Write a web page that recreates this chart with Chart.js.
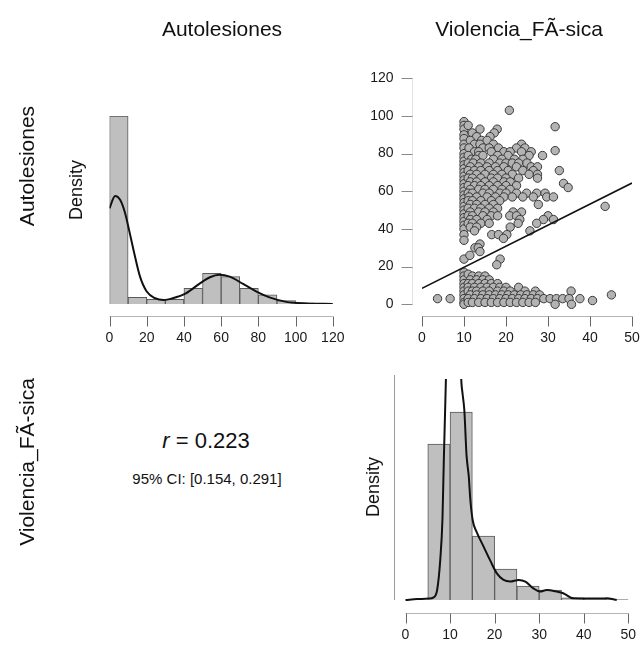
<!DOCTYPE html>
<html>
<head>
<meta charset="utf-8">
<script src="https://cdn.jsdelivr.net/npm/chart.js@4.4.0/dist/chart.umd.min.js"></script>
<style>
  html, body { margin: 0; padding: 0; background: #ffffff; }
  body { width: 640px; height: 646px; position: relative; overflow: hidden;
         font-family: "Liberation Sans", Arial, sans-serif; color: #111; }
  canvas { position: absolute; }
  .t { position: absolute; white-space: nowrap; line-height: 1; transform: translate(-50%, -50%); }
  .v { transform: translate(-50%, -50%) rotate(-90deg); }
</style>
</head>
<body>
<canvas id="histAuto" width="345" height="360" style="left:0px;top:0px"></canvas>
<canvas id="scatter" width="300" height="360" style="left:340px;top:0px"></canvas>
<canvas id="histViol" width="300" height="286" style="left:340px;top:360px"></canvas>

<div class="t" style="left:222px;top:28px;font-size:21px">Autolesiones</div>
<div class="t" style="left:519px;top:28px;font-size:21px">Violencia_FÃ-sica</div>
<div class="t v" style="left:26px;top:166px;font-size:21px">Autolesiones</div>
<div class="t v" style="left:26px;top:462px;font-size:21px">Violencia_FÃ-sica</div>
<div class="t v" style="left:76px;top:190px;font-size:18px">Density</div>
<div class="t v" style="left:373px;top:487px;font-size:18px">Density</div>
<div class="t" style="left:206px;top:441px;font-size:22px"><i>r</i> = 0.223</div>
<div class="t" style="left:207px;top:478px;font-size:15px">95% CI: [0.154, 0.291]</div>

<script>
// ---------- data ----------
const autoTicks = [0, 20, 40, 60, 80, 100, 120];
const violTicks = [0, 10, 20, 30, 40, 50];
const scatterYTicks = [0, 20, 40, 60, 80, 100, 120];

// Autolesiones histogram (bin width 10)
const autoBinStarts = [0, 10, 20, 30, 40, 50, 60, 70, 80, 90, 100, 110];
const autoBinDensity = [0.0619, 0.0022, 0.0015, 0.0015, 0.0052, 0.0101, 0.0090, 0.0052, 0.0030, 0.0011, 0.0004, 0.0001];
const autoBinWidth = 10;
// Autolesiones density curve
const autoDensX = [0, 3, 5.7, 8.4, 10.5, 12.9, 16.4, 20, 24.5, 29, 34, 41, 48.6, 54, 59, 64.6, 71.8, 79, 86, 95, 106, 120];
const autoDensY = [0.0315, 0.0356, 0.0343, 0.0299, 0.0244, 0.0178, 0.0090, 0.0041, 0.0019, 0.0013, 0.0019, 0.0035, 0.0068, 0.0088, 0.0096, 0.0090, 0.0066, 0.0041, 0.0022, 0.0007, 0.0002, 0.0000];
const autoYMax = 0.0619;

// Violencia histogram (bin width 5)
const violBinStarts = [5, 10, 15, 20, 25, 30, 35, 40, 45];
const violBinDensity = [0.0669, 0.0806, 0.0274, 0.0133, 0.0060, 0.0043, 0.0009, 0.0004, 0.0002];
const violBinWidth = 5;
// Violencia density curve (peaks run past the top of the panel)
const violDensX = [0, 2.6, 5.2, 6.3, 7.1, 7.8, 8.3, 8.6, 8.9, 9.1, 9.5, 10.5, 11.5, 12.1, 12.5, 12.8, 13.2, 13.7, 14.2, 14.55, 15.1, 16, 17.5, 19, 20.5, 22, 23.5, 25.4, 26.9, 28.7, 30.2, 31.7, 34, 35.4, 37.7, 41.4, 44.4, 45.1, 47.4];
const violDensY = [0, 0.0004, 0.0006, 0.0011, 0.0043, 0.0172, 0.035, 0.060, 0.082, 0.097, 0.13, 0.16, 0.16, 0.125, 0.095, 0.0886, 0.0815, 0.062, 0.053, 0.043, 0.034, 0.029, 0.023, 0.017, 0.0114, 0.0086, 0.0079, 0.0086, 0.0079, 0.005, 0.0036, 0.0043, 0.0036, 0.0029, 0.0007, 0.0006, 0.0006, 0.0007, 0];
const violYMax = 0.0965;

// Scatter: [Violencia_FÃ-sica, Autolesiones]
const scatterPoints = [
  [10,97],[10,95],[10,93],[10,90],[10,88],[10,85],[10,83],[10,80],[10,78],[10,76],[10,74],[10,72],[10,70],[10,68],
  [10,66],[10,64],[10,62],[10,60],[10,58],[10,56],[10,54],[10,52],[10,50],[10,48],[10,46],[10,44],[10,42],[10,40],
  [10,37],[10,34],[10,24],[10,17],[10,15],[10,13],[10,11],[10,9],[10,7],[10,5],[10,3],[10,1],[10,0],
  [20.8,103],[31.7,94.3],[31.7,81.6],[33.7,64.2],[34.8,62],
  [11,95],
  [13.8,93],[17.9,93],
  [12,91],[17.2,91],
  [13,89],[16.2,89],
  [11.5,87],[14.2,87],[15.5,87],
  [12.5,85],[13.8,85],[17,85],[23.7,85],
  [11.2,83],[14.5,83],[16,83],[18.2,83],[22.5,83],[24.5,83],
  [12.5,81],[13.5,81],[16.5,81],[19.5,81],[21,81],[23.7,81],[26,81],
  [11,79],[13.5,79],[14.5,79],[18,79],[20.5,79],[25.5,79],[28.7,79],
  [11.8,77],[12.8,77],[17,77],[19,77],[22,77],[24,77],
  [11,75],[12.2,75],[14,75],[16,75],[18.5,75],[20,75],[21.5,75],[23,75],[25,75],
  [11.5,73],[13.5,73],[15.5,73],[17.5,73],[19.5,73],[22.5,73],[26,73],[27.5,73],
  [11,71],[12.5,71],[14,71],[16,71],[18,71],[20.5,71],[24,71],[26.5,71],[32.7,71],
  [11.5,69],[13,69],[15,69],[17,69],[19,69],[21.5,69],[25.5,69],[27.5,69],
  [11,67],[12,67],[14,67],[16.5,67],[18,67],[20,67],[23,67],[27.5,67],
  [11.5,65],[13,65],[15,65],[17,65],[19.5,65],[21,65],
  [11,63],[12.5,63],[14,63],[16,63],[18,63],[20,63],[22.5,63],
  [11.5,61],[13.5,61],[15,61],[17,61],[19,61],[21,61],
  [11,59],[12,59],[14.5,59],[16,59],[18.5,59],[20,59],[22.5,59],[24.9,59],[27.3,59],[29.3,59],
  [11.2,57],[13,57],[15.5,57],[17.5,57],[19.5,57],[21.5,57],[24,57],[26.5,57],[29.7,57],[31.3,57],
  [11,55],[12,55],[14,55],[16.5,55],[18.5,55],
  [11.5,53],[13,53],[15,53],[17,53],[27.7,53],[43.6,52],
  [11,51],[12.5,51],[14,51],[16,51],[18,51],
  [11.5,49],[13.5,49],[15,49],[17,49],[21.7,49],[23.7,49],
  [11,47],[12,47],[14.5,47],[16.5,47],[18,47],[20.9,47],[22.5,47],[30,47],
  [11.5,45],[13,45],[15.5,45],[23.3,45],[28.9,45],[31.3,45],
  [11,43],[12,43],[14,43],[16,43],[22.9,43],[27.3,43],
  [11.5,41],[13,41],[21,41],
  [12.5,39],[25.7,39],
  [16.6,37],[18.2,37],[20.2,37],
  [19.4,35],[13.8,32],[12.6,30],[13.4,30],[13.8,28],[11.4,26],[18.6,24],[17.8,21],
  [11,16],
  [12,15],[13.5,15],[15,15],
  [11.5,13],[13,13],[14.5,13],[16,13],
  [11,11],[12,11],[13.5,11],[15,11],[16.5,11],[18,11],
  [11,9],[12.5,9],[14,9],[15.5,9],[17,9],[18.5,9],[20,9],[23,9],
  [11,7],[12,7],[13,7],[14.5,7],[16,7],[18,7],[19.5,7],[21,7],[24.5,7],[27,7],[35.5,7],
  [11.5,5],[13,5],[14.5,5],[16,5],[17.5,5],[19,5],[20.5,5],[22,5],[23.5,5],[25,5],[26.5,5],[28,5],[45.1,5],
  [3.7,3],[6.7,3],[11,3],[12.5,3],[14,3],[15.5,3],[17,3],[18.5,3],[20,3],[21.5,3],[23,3],[24.5,3],[26,3],
  [27.5,3],[29,3],[30.5,3],[32,3],[33.5,3],[35,3],[37.6,3],[40.6,2],
  [11,1],[12,1],[13.5,1],[15,1],[16.5,1],[18,1],[19.5,1],[21,1],[22.5,1],[24,1],[25.5,1],[27,1],
  [31.7,0],[35.6,0]
];
// Regression line
const regLineX = [0, 50];
const regLineY = [8.5, 64.4];

// ---------- styles ----------
const FONT = '"Liberation Sans", Arial, sans-serif';
const barFill = '#bfbfbf';
const barEdge = '#5a5a5a';

// Detached R-style axes drawn through the chart's own scales
const rAxes = {
  id: 'rAxes',
  afterDraw(chart, args, opts) {
    const ctx = chart.ctx;
    const xs = chart.scales.x, ys = chart.scales.y;
    ctx.save();
    ctx.font = '14px ' + FONT;
    ctx.fillStyle = '#1a1a1a';
    if (opts.x) {
      const o = opts.x;
      const yLine = Math.round(ys.getPixelForValue(ys.min) + o.gap) + 0.5;
      const x0 = xs.getPixelForValue(o.ticks[0]);
      const x1 = xs.getPixelForValue(o.ticks[o.ticks.length - 1]);
      ctx.strokeStyle = '#b5b5b5'; ctx.lineWidth = 1;
      ctx.beginPath(); ctx.moveTo(x0, yLine); ctx.lineTo(x1, yLine); ctx.stroke();
      ctx.strokeStyle = '#666'; 
      ctx.textAlign = 'center'; ctx.textBaseline = 'middle';
      o.ticks.forEach(v => {
        const px = Math.round(xs.getPixelForValue(v)) + 0.5;
        ctx.beginPath(); ctx.moveTo(px, yLine); ctx.lineTo(px, yLine + 10); ctx.stroke();
        ctx.fillText(String(v), xs.getPixelForValue(v), yLine + 22);
      });
    }
    if (opts.y) {
      const o = opts.y;
      const xLine = Math.round(xs.getPixelForValue(xs.min) - o.gap) + 0.5;
      const yTop = o.ticks ? ys.getPixelForValue(o.ticks[o.ticks.length - 1]) : ys.getPixelForValue(ys.max);
      const yBot = o.ticks ? ys.getPixelForValue(o.ticks[0]) : ys.getPixelForValue(ys.min);
      ctx.strokeStyle = o.lineColor; ctx.lineWidth = 1;
      ctx.beginPath(); ctx.moveTo(xLine, yTop); ctx.lineTo(xLine, yBot); ctx.stroke();
      if (o.ticks) {
        ctx.strokeStyle = '#8a8a8a';
        ctx.textAlign = 'right'; ctx.textBaseline = 'middle';
        o.ticks.forEach(v => {
          const py = Math.round(ys.getPixelForValue(v)) + 0.5;
          ctx.beginPath(); ctx.moveTo(xLine - 11, py); ctx.lineTo(xLine, py); ctx.stroke();
          ctx.fillText(String(v), xLine - 19, ys.getPixelForValue(v));
        });
      }
    }
    ctx.restore();
  }
};

const common = {
  responsive: false,
  animation: false,
  events: [],
  devicePixelRatio: 1,
};

function histChart(id, pad, xMax, step, starts, dens, width, curveX, curveY, yMax, axesOpts, curveClip) {
  return new Chart(document.getElementById(id), {
    type: 'bar',
    data: {
      datasets: [
        {
          type: 'line',
          order: 0,
          data: curveX.map((x, i) => ({ x: x, y: curveY[i] })),
          borderColor: '#111',
          borderWidth: 2,
          pointRadius: 0,
          cubicInterpolationMode: 'monotone',
          fill: false,
          clip: curveClip
        },
        {
          type: 'bar',
          order: 1,
          data: starts.map((s, i) => ({ x: s + width / 2, y: dens[i] })),
          backgroundColor: barFill,
          borderColor: barEdge,
          borderWidth: 1,
          barPercentage: 1,
          categoryPercentage: 1
        }
      ]
    },
    options: Object.assign({}, common, {
      layout: { padding: pad },
      plugins: { legend: { display: false }, tooltip: { enabled: false }, rAxes: axesOpts },
      scales: {
        x: { type: 'linear', min: 0, max: xMax, offset: false, display: false, ticks: { stepSize: step } },
        y: { type: 'linear', min: 0, max: yMax, display: false }
      }
    }),
    plugins: [rAxes]
  });
}

// Panel 1: Autolesiones histogram
histChart('histAuto', { left: 109.5, right: 12.2, top: 116, bottom: 56 },
  120, 20, autoBinStarts, autoBinDensity, autoBinWidth, autoDensX, autoDensY, autoYMax,
  { x: { ticks: autoTicks, gap: 11.5 } }, undefined);

// Panel 4: Violencia histogram
histChart('histViol', { left: 65.5, right: 11.7, top: 15, bottom: 46 },
  50, 10, violBinStarts, violBinDensity, violBinWidth, violDensX, violDensY, violYMax,
  { x: { ticks: violTicks, gap: 12.5 }, y: { gap: 11.5, lineColor: '#9a9a9a' } },
  { left: 5, right: 5, top: -4, bottom: 5 });

// Panel 2: scatter
new Chart(document.getElementById('scatter'), {
  type: 'scatter',
  data: {
    datasets: [
      {
        type: 'line',
        order: 0,
        data: regLineX.map((x, i) => ({ x: x, y: regLineY[i] })),
        borderColor: '#111',
        borderWidth: 1.6,
        pointRadius: 0,
        fill: false
      },
      {
        order: 1,
        data: scatterPoints.map(p => ({ x: p[0], y: p[1] })),
        pointRadius: 4.2,
        pointBackgroundColor: '#b3b3b3',
        pointBorderColor: '#3a3a3a',
        pointBorderWidth: 1,
        clip: false
      }
    ]
  },
  options: Object.assign({}, common, {
    layout: { padding: { left: 82, right: 8, top: 78.3, bottom: 55.7 } },
    plugins: { legend: { display: false }, tooltip: { enabled: false },
      rAxes: { x: { ticks: violTicks, gap: 11.5 }, y: { ticks: scatterYTicks, gap: 10, lineColor: '#e2e2e2' } } },
    scales: {
      x: { type: 'linear', min: 0, max: 50, display: false },
      y: { type: 'linear', min: 0, max: 120, display: false }
    }
  }),
  plugins: [rAxes]
});
</script>
</body>
</html>
